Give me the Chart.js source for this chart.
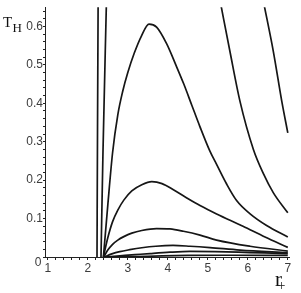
<!DOCTYPE html>
<html>
<head>
  <meta charset="utf-8">
  <title>T_H against r_+</title>
  <script src="https://cdn.jsdelivr.net/npm/chart.js@4"></script>
  <style>
    body { margin: 0; background: #fff; }
  </style>
</head>
<body>
  <canvas id="chart" width="301" height="293"></canvas>
  <script>
    // values: r_+ and T_H for each curve
    const rL1 = [2.23, 2.243, 2.258];
    const tL1 = [0, 0.33, 0.66];
    const rL2 = [2.33, 2.38, 2.465];
    const tL2 = [0, 0.276, 0.66];
    const rR1 = [5.32, 5.555, 5.805, 6.14, 6.39, 6.64, 7.0];
    const tR1 = [0.66, 0.534, 0.405, 0.28, 0.217, 0.167, 0.115];
    const rR2 = [6.4, 6.64, 6.85, 7.0];
    const tR2 = [0.66, 0.534, 0.405, 0.323];
    const rP = [2.39, 2.5, 2.62, 2.75, 2.87, 3.0, 3.16, 3.34, 3.53, 3.72, 3.97, 4.2, 4.4, 4.6, 4.8, 5.05, 5.22, 5.47, 5.72, 6.05, 6.47, 7.0];
    const tP = [0, 0.135, 0.272, 0.37, 0.43, 0.48, 0.53, 0.575, 0.606, 0.598, 0.555, 0.5, 0.45, 0.395, 0.34, 0.276, 0.241, 0.19, 0.147, 0.113, 0.082, 0.052];
    const rQ = [2.39, 2.5, 2.62, 2.75, 2.9, 3.1, 3.35, 3.6, 3.855, 4.14, 4.455, 4.805, 5.22, 5.88, 6.43, 7.0];
    const tQ = [0, 0.05, 0.092, 0.122, 0.148, 0.172, 0.188, 0.196, 0.191, 0.175, 0.155, 0.134, 0.112, 0.08, 0.052, 0.025];
    const rS = [2.4, 2.5, 2.62, 2.75, 2.9, 3.1, 3.35, 3.72, 4.055, 4.39, 4.805, 5.22, 6.055, 7.0];
    const tS = [0, 0.018, 0.033, 0.044, 0.053, 0.062, 0.069, 0.074, 0.073, 0.067, 0.057, 0.044, 0.028, 0.0155];
    const rU = [2.41, 2.6, 2.8, 3.05, 3.35, 3.7, 4.13, 4.555, 5.055, 5.805, 7.0];
    const tU = [0, 0.008, 0.014, 0.019, 0.024, 0.028, 0.03, 0.028, 0.0245, 0.018, 0.0115];
    const rV = [2.42, 2.8, 3.18, 3.555, 4.055, 4.555, 5.18, 6.055, 7.0];
    const tV = [0, 0.003, 0.006, 0.009, 0.0125, 0.0145, 0.014, 0.0116, 0.009];
    const rW = [2.43, 3.5, 4.5, 5.5, 7.0];
    const tW = [0, 0.002, 0.004, 0.0045, 0.004];

    const xTickLabels = [1, 2, 3, 4, 5, 6, 7];
    const yTickLabels = [0, 0.1, 0.2, 0.3, 0.4, 0.5, 0.6];
    const xMinorStep = 0.2;
    const yMinorStep = 0.02;

    function pts(rs, ts) {
      return rs.map((r, i) => ({ x: r, y: ts[i] }));
    }

    function curve(rs, ts) {
      return {
        data: pts(rs, ts),
        showLine: true,
        borderColor: "#161616",
        borderWidth: 1.7,
        pointRadius: 0,
        cubicInterpolationMode: "monotone",
        fill: false
      };
    }

    function stepTicks(lo, hi, step) {
      const out = [];
      for (let v = lo; v <= hi + 1e-9; v += step) out.push({ value: Math.round(v * 1000) / 1000 });
      return out;
    }

    const isOn = (v, list) => list.some(t => Math.abs(t - v) < 1e-6);

    const axisNames = {
      id: "axisNames",
      afterDraw(chart) {
        const c = chart.ctx;
        c.save();
        c.fillStyle = "#111";
        c.textBaseline = "alphabetic";
        c.font = '15px "Liberation Serif"';
        c.fillText("T", 3, 27.3);
        c.font = '13px "Liberation Serif"';
        c.fillText("H", 12.5, 31.7);
        c.font = '21px "Liberation Serif"';
        c.fillText("r", 275, 285.7);
        c.font = '14px "Liberation Serif"';
        c.fillText("+", 277.6, 289.7);
        // the zero of T_H sits a little under its tick
        c.fillStyle = "#3c3c3c";
        c.font = '12px "Liberation Sans"';
        c.textAlign = "right";
        c.fillText("0", 41.3, 265.7);
        c.restore();
      }
    };

    new Chart(document.getElementById("chart"), {
      type: "scatter",
      data: {
        datasets: [
          curve(rL1, tL1), curve(rL2, tL2), curve(rR1, tR1), curve(rR2, tR2),
          curve(rP, tP), curve(rQ, tQ), curve(rS, tS), curve(rU, tU),
          curve(rV, tV), curve(rW, tW)
        ]
      },
      options: {
        responsive: false,
        animation: false,
        layout: { padding: { left: 0, right: 12, top: 5, bottom: 0 } },
        plugins: { legend: { display: false }, tooltip: { enabled: false } },
        scales: {
          x: {
            type: "linear",
            min: 0.93,
            max: 7.03,
            afterBuildTicks: s => { s.ticks = stepTicks(1, 7, xMinorStep); },
            afterFit: s => { s.height = 36; },
            ticks: {
              autoSkip: false,
              maxRotation: 0,
              padding: 1,
              color: "#3c3c3c",
              font: { family: "Liberation Sans", size: 12 },
              callback: v => isOn(v, xTickLabels) ? String(Math.round(v)) : ""
            },
            grid: { drawOnChartArea: false, tickLength: 3, color: "#222" },
            border: { color: "#222", width: 1 }
          },
          y: {
            type: "linear",
            min: 0,
            max: 0.65,
            afterBuildTicks: s => { s.ticks = stepTicks(0, 0.64, yMinorStep); },
            afterFit: s => { s.width = 45; },
            ticks: {
              autoSkip: false,
              padding: 0,
              color: "#3c3c3c",
              font: { family: "Liberation Sans", size: 12 },
              callback: v => (v > 0 && isOn(v, yTickLabels)) ? String(Math.round(v * 10) / 10) : ""
            },
            grid: { drawOnChartArea: false, tickLength: 2, color: "#222" },
            border: { color: "#222", width: 1 }
          }
        }
      },
      plugins: [axisNames]
    });
  </script>
</body>
</html>
